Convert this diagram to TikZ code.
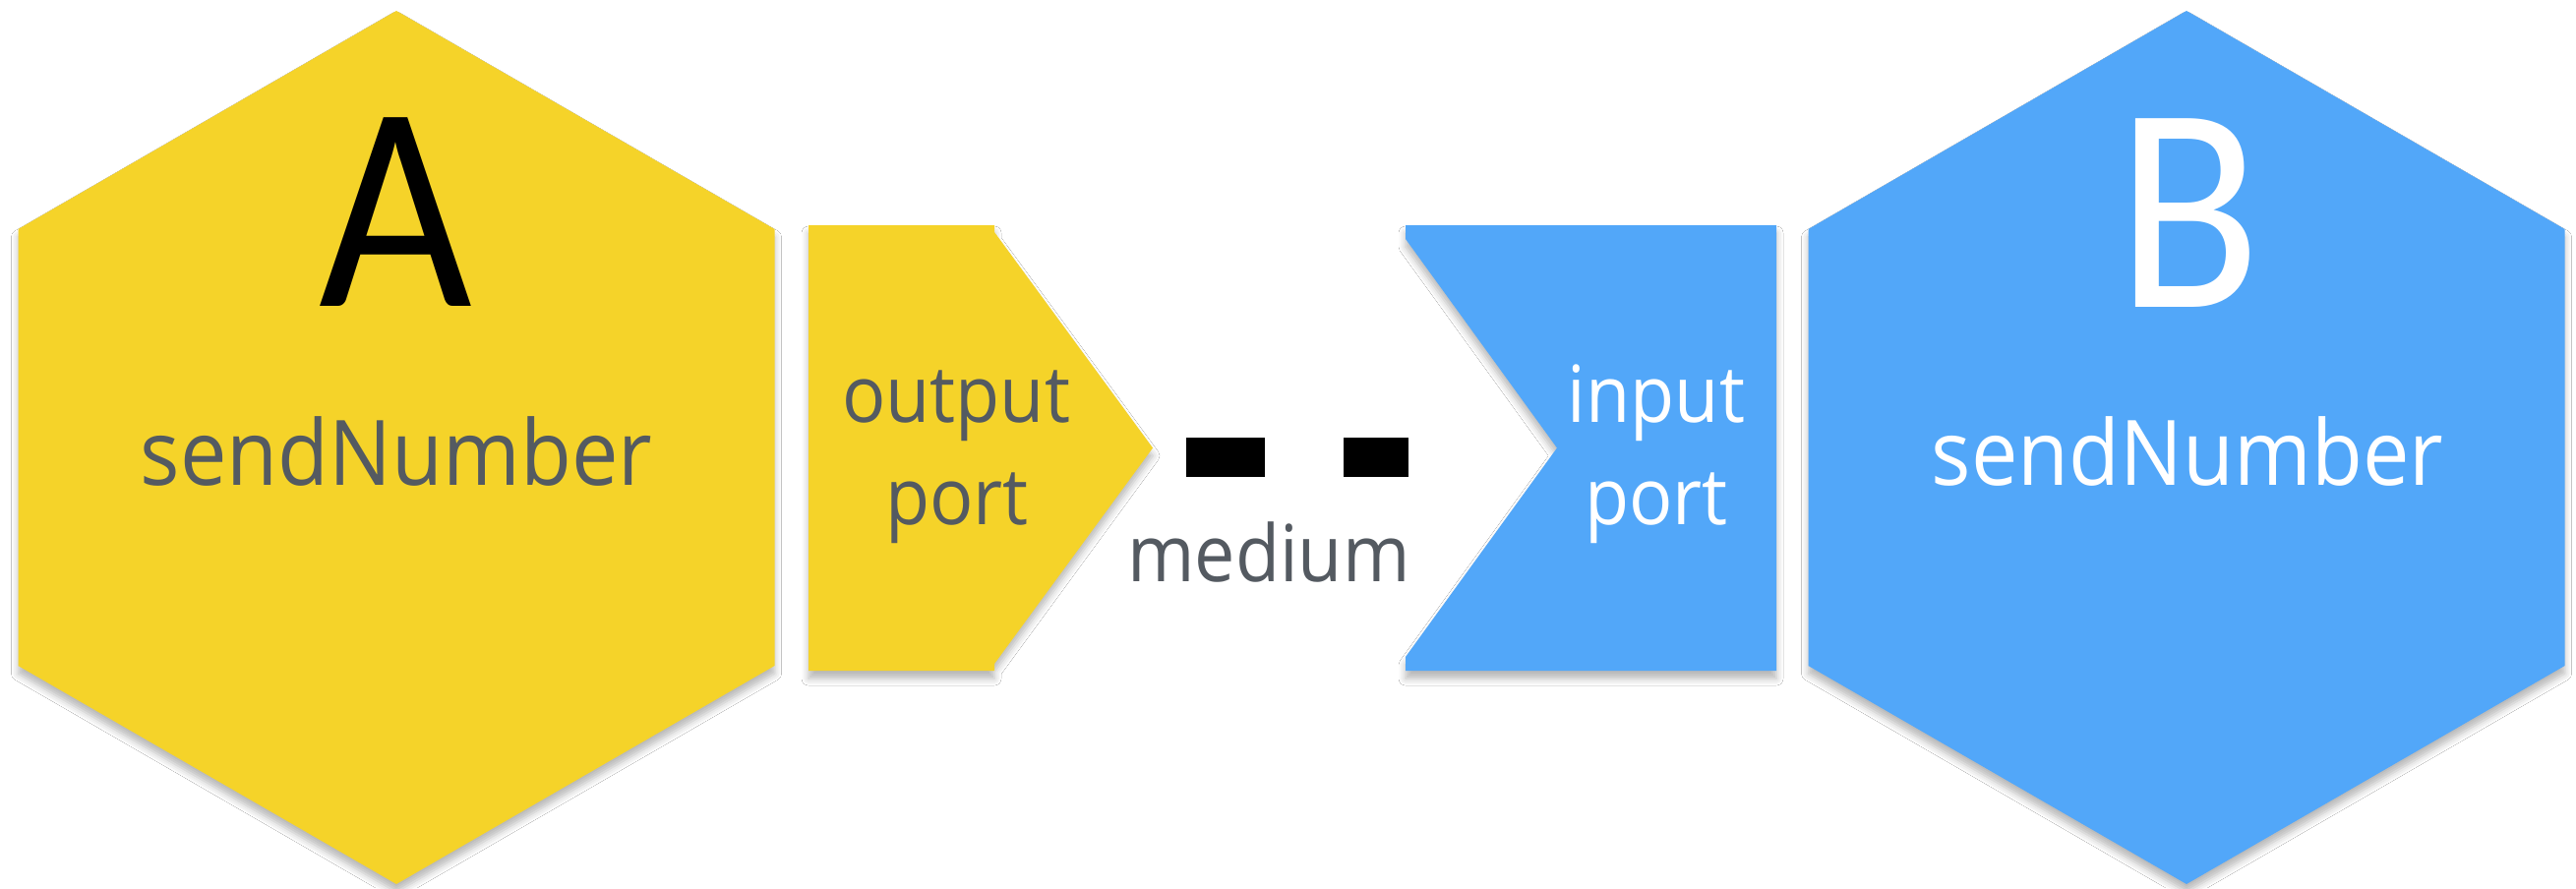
\documentclass[tikz,border=0pt]{standalone}
\usepackage{fontspec}
\setmainfont{Open Sans}
\newfontfamily\labelfont[FakeStretch=0.92]{Open Sans}
\newfontfamily\letterfont[FakeStretch=0.9]{Carlito}
\usetikzlibrary{shadows.blur}

\definecolor{procyellow}{HTML}{F5D329}
\definecolor{procblue}{HTML}{52A7F9}
\definecolor{labelgray}{HTML}{545A61}

\begin{document}
\begin{tikzpicture}[x=1pt, y=-1pt,
  softshadow/.style={blur shadow={shadow xshift=0pt, shadow yshift=-8pt,
      shadow blur radius=7pt, shadow opacity=28}},
  yellowpart/.style={fill=procyellow, softshadow},
  bluepart/.style={fill=procblue, softshadow},
  bigletter/.style={anchor=base, inner sep=0pt,
      font=\letterfont\fontsize{299}{299}\selectfont},
  procname/.style={anchor=base, inner sep=0pt,
      font=\labelfont\fontsize{92}{110}\selectfont},
  portname/.style={anchor=base, inner sep=0pt,
      font=\labelfont\fontsize{80}{104}\selectfont},
  mediumline/.style={line width=40pt, dash pattern=on 80pt off 80pt}]

\useasboundingbox[fill=white] (0,0) rectangle (2619,903);

% process A: hexagon and its output port
\path[yellowpart] (403,11) -- (787.5,233) -- (787.5,677) -- (403,899)
  -- (18.5,677) -- (18.5,233) -- cycle;
\path[yellowpart] (822,229) -- (1011,229) -- (1011,236) -- (1172,455.5)
  -- (1011,675) -- (1011,682) -- (822,682) -- cycle;

% process B: hexagon and its input port
\path[bluepart] (2223,11) -- (2607.5,233) -- (2607.5,677) -- (2223,899)
  -- (1838.5,677) -- (1838.5,233) -- cycle;
\path[bluepart] (1429,229) -- (1806,229) -- (1806,682) -- (1429,682)
  -- (1429,668) -- (1583,455.5) -- (1429,243) -- cycle;

% labels
\node[bigletter, text=black] (letterA) at (402,311) {A};
\node[bigletter, text=white] (letterB) at (2226,312) {B};
\node[procname, text=labelgray] (nameA) at (403,493) {sendNumber};
\node[procname, text=white] (nameB) at (2224,493) {sendNumber};
\node[portname, text=labelgray] (outportA) at (972,429) {output};
\node[portname, text=labelgray] (outportB) at (973,533) {port};
\node[portname, text=white] (inportA) at (1684,429) {input};
\node[portname, text=white] (inportB) at (1684,533) {port};
\node[portname, text=labelgray] (medium) at (1290,591) {medium};

% the communication medium between the ports
\coordinate (mediumstart) at (1206,465);
\coordinate (mediumend) at (1432,465);
\draw[mediumline] (mediumstart) -- (mediumend);

\end{tikzpicture}
\end{document}
